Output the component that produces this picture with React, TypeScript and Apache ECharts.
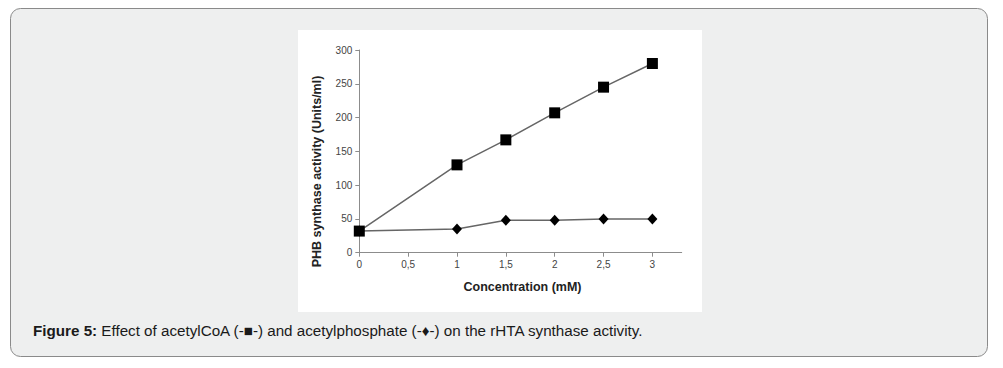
import React, { useEffect, useRef } from "react";
import * as echarts from "echarts";

const concentration = [0, 1, 1.5, 2, 2.5, 3];
const acetylCoA = [32, 130, 167, 207, 245, 280];
const acetylPhosphate = [32, 35, 48, 48, 50, 50];
const xTicks = [0, 0.5, 1, 1.5, 2, 2.5, 3];
const yTitle = "PHB synthase activity (Units/ml)";
const xTitle = "Concentration (mM)";
const captionBold = "Figure 5:";
const captionRest = " Effect of acetylCoA (-■-) and acetylphosphate (-♦-) on the rHTA synthase activity.";

export default function App() {
  const ref = useRef<HTMLDivElement>(null);
  useEffect(() => {
    if (!ref.current) return;
    const chart = echarts.init(ref.current, undefined, { renderer: "svg" });
    const axisColor = "#8c8c8c";
    const ff = "'Liberation Sans', Arial, sans-serif";
    chart.setOption({
      animation: false,
      backgroundColor: "#ffffff",
      graphic: [
        {
          type: "rect",
          z: -10,
          shape: { x: 10.5, y: 8.5, width: 977, height: 348, r: 10 },
          style: { fill: "#eeefef", stroke: "#8a8a8a", lineWidth: 1 },
        },
        {
          type: "rect",
          z: -9,
          shape: { x: 298, y: 30, width: 404, height: 282 },
          style: { fill: "#ffffff" },
        },
        {
          type: "text",
          x: 316.5,
          y: 171.5,
          rotation: Math.PI / 2,
          style: {
            text: yTitle,
            font: "bold 12.5px " + ff,
            fill: "#222",
            align: "center",
            verticalAlign: "middle",
          },
        },
        {
          type: "text",
          x: 522.5,
          y: 286.5,
          style: {
            text: xTitle,
            font: "bold 12.5px " + ff,
            fill: "#222",
            align: "center",
            verticalAlign: "middle",
          },
        },
        {
          type: "text",
          x: 33,
          y: 330,
          style: {
            text: "{b|" + captionBold + "}{n|" + captionRest + "}",
            verticalAlign: "middle",
            rich: {
              b: { fontWeight: "bold", fontSize: 15.2, fontFamily: ff, fill: "#1a1a1a" },
              n: { fontSize: 15.2, fontFamily: ff, fill: "#1a1a1a" },
            },
          },
        },
      ],
      grid: { left: 359.3, right: 1003 - 681.7, top: 50, bottom: 368 - 252.7, containLabel: false },
      xAxis: {
        type: "value",
        min: 0,
        max: 3.3,
        interval: 0.5,
        axisLine: { show: true, onZero: false, lineStyle: { color: axisColor, width: 1 } },
        axisTick: { show: true, inside: false, length: 4, customValues: xTicks, lineStyle: { color: axisColor } },
        axisLabel: {
          customValues: xTicks,
          margin: 7,
          fontSize: 10,
          color: "#444",
          fontFamily: ff,
          formatter: (v: number) => String(v).replace(".", ","),
        },
        splitLine: { show: false },
      },
      yAxis: {
        type: "value",
        min: 0,
        max: 300,
        interval: 50,
        axisLine: { show: true, lineStyle: { color: axisColor, width: 1 } },
        axisTick: { show: true, inside: false, length: 4, lineStyle: { color: axisColor } },
        axisLabel: { margin: 7, fontSize: 10, color: "#444", fontFamily: ff },
        splitLine: { show: false },
      },
      series: [
        {
          type: "line",
          data: concentration.map((x, i) => [x, acetylPhosphate[i]]),
          symbol: "diamond",
          symbolSize: [10, 11],
          lineStyle: { color: "#666", width: 1.5 },
          itemStyle: { color: "#000" },
          z: 2,
        },
        {
          type: "line",
          data: concentration.map((x, i) => [x, acetylCoA[i]]),
          symbol: "rect",
          symbolSize: 11,
          lineStyle: { color: "#666", width: 1.5 },
          itemStyle: { color: "#000" },
          z: 3,
        },
      ],
    });
    return () => chart.dispose();
  }, []);
  return (
    <div
      ref={ref}
      style={{ position: "fixed", left: 0, top: 0, width: 1003, height: 368 }}
    />
  );
}
